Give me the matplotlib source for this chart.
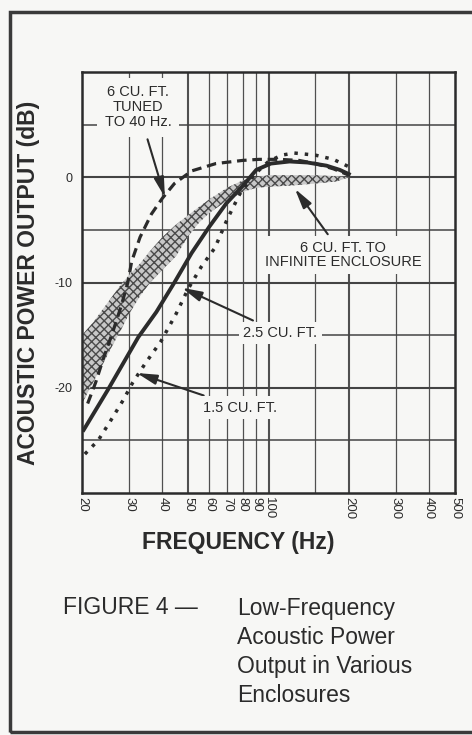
import matplotlib.pyplot as plt
from matplotlib.patches import Rectangle
from matplotlib.ticker import FixedLocator, NullLocator

plt.rcParams['font.family'] = ['Liberation Sans', 'DejaVu Sans']

# curve readings (Hz, dB) taken off the scanned figure
freq_tuned = [21, 22.5, 24, 26, 28, 29.7, 30.7, 33, 36.4, 40, 44.4, 51.5, 63.5, 80, 92, 110, 130, 150, 175, 200]
db_tuned = [-21.5, -19.5, -17.3, -14.8, -12.3, -10.0, -8.0, -5.7, -3.5, -2.0, -0.6, 0.6, 1.3, 1.6, 1.7, 1.7, 1.6, 1.3, 0.8, 0.2]

freq_25 = [20.3, 25, 32.5, 38, 44.4, 51.5, 60, 69.4, 79.6, 90, 102, 120, 140, 165, 185, 200]
db_25 = [-24, -20.2, -15.2, -12.8, -10.0, -7.2, -4.7, -2.5, -0.9, 0.7, 1.3, 1.5, 1.4, 1.1, 0.7, 0.3]

freq_15 = [20.5, 23, 25.5, 28.5, 31, 34.5, 39.5, 45, 50, 56, 63, 70, 78, 88, 100, 112, 125, 150, 175, 200]
db_15 = [-26.3, -25, -23.2, -21.2, -19.5, -17.7, -15.6, -13.0, -10.6, -8.5, -6.7, -4.0, -1.6, 0.2, 1.5, 2.1, 2.3, 2.1, 1.7, 1.0]

# shaded band: 6 cu. ft. up to infinite enclosure
freq_band = [20, 22, 24, 26, 28, 30, 33, 36, 40, 45, 50, 55, 60, 70, 80, 90, 100, 120, 150, 180, 200]
band_top = [-15, -13.8, -12.5, -11.3, -10.2, -9.3, -8.2, -7.0, -5.7, -4.5, -3.6, -2.8, -2.1, -1.0, -0.3, 0.0, 0.2, 0.2, 0.2, 0.1, 0.0]
band_bottom = [-21.5, -19.5, -17.7, -16.0, -14.5, -13.0, -11.3, -10.0, -8.8, -7.5, -5.6, -4.3, -3.4, -2.2, -1.4, -1.0, -0.9, -0.8, -0.6, -0.4, 0.0]

xtick_vals = [20, 30, 40, 50, 60, 70, 80, 90, 100, 200, 300, 400, 500]
xtick_labels = [str(v) for v in xtick_vals]
vgrid = [30, 40, 50, 60, 70, 80, 90, 100, 150, 200, 300, 400]
vgrid_heavy = [50, 100, 200]
ytick_vals = [0, -10, -20]
ytick_labels = ['0', '-10', '-20']
hgrid = [5, 0, -5, -10, -15, -20, -25]

bg = '#f7f7f5'
ink = '#2b2b2b'

fig = plt.figure(figsize=(4.72, 7.35), dpi=100, facecolor=bg)
ax = fig.add_axes([82 / 472, 1 - 493 / 735, 373 / 472, 421 / 735])
ax.set_facecolor(bg)
ax.set_xscale('log')
ax.set_xlim(20, 500)
ax.set_ylim(-30, 10)

for f in vgrid:
    ax.axvline(f, color='#505050', lw=1.5 if f in vgrid_heavy else 0.9, zorder=1)
for d in hgrid:
    ax.axhline(d, color='#444444', lw=1.5 if d % 10 == 0 else 1.1, zorder=1)

ax.fill_between(freq_band, band_bottom, band_top, facecolor='#c8c8c8',
                edgecolor='#4a4a4a', hatch='xxxx', linewidth=0, zorder=2)
ax.plot(freq_tuned, db_tuned, color=ink, lw=2.3, linestyle=(0, (3, 1.8)), zorder=3)
ax.plot(freq_25, db_25, color=ink, lw=2.8, zorder=4)
ax.plot(freq_15, db_15, color=ink, lw=2.5, linestyle=(0, (1, 2)),
        dash_capstyle='butt', zorder=3)

ax.xaxis.set_major_locator(FixedLocator(xtick_vals))
ax.xaxis.set_minor_locator(NullLocator())
ax.set_xticklabels(xtick_labels, rotation=270, fontsize=9.5, color=ink)
ax.set_yticks(ytick_vals)
ax.set_yticklabels(ytick_labels, fontsize=9, color=ink)
ax.tick_params(axis='both', length=0)
ax.tick_params(axis='x', pad=3)
ax.tick_params(axis='y', pad=7)
for s in ax.spines.values():
    s.set_linewidth(1.8)
    s.set_color(ink)

ax.set_ylabel('ACOUSTIC POWER OUTPUT (dB)', fontsize=16.5, fontweight='bold', color=ink)
ax.yaxis.set_label_coords(-0.112, 0.5)

box = dict(boxstyle='square,pad=0.3', facecolor=bg, edgecolor='none')
arrow = dict(arrowstyle='-|>,head_length=1.0,head_width=0.25', color=ink, lw=1.5,
             mutation_scale=12, shrinkA=2, shrinkB=0)
txt = dict(fontsize=10.5, color=ink, ha='center', va='center', zorder=6)

ax.annotate('6 CU. FT.\nTUNED\nTO 40 Hz.', xy=(40.9, -1.9), xytext=(32.4, 6.65),
            arrowprops=arrow, bbox=dict(boxstyle='square,pad=0.5', facecolor=bg, edgecolor='none'),
            linespacing=1.1, **txt)
ax.annotate('6 CU. FT. TO\nINFINITE ENCLOSURE', xy=(125.6, -1.1), xytext=(190, -7.4),
            arrowprops=arrow, bbox=box, linespacing=1.05, **txt)
ax.annotate('2.5 CU. FT.', xy=(47.4, -10.5), xytext=(110.6, -14.8),
            arrowprops=arrow, bbox=box, **txt)
ax.annotate('1.5 CU. FT.', xy=(32.1, -18.6), xytext=(78.3, -21.9),
            arrowprops=arrow, bbox=box, **txt)

fig.text(238.5 / 472, 1 - 542 / 735, 'FREQUENCY (Hz)', fontsize=16.5, fontweight='bold',
         color=ink, ha='center', va='center')

fig.text(63 / 472, 1 - 608 / 735, 'FIGURE 4 \u2014', fontsize=16.5, color=ink,
         ha='left', va='center')
caption = ['Low-Frequency', 'Acoustic Power', 'Output in Various', 'Enclosures']
for i, line in enumerate(caption):
    fig.text(237 / 472, 1 - (608 + 29 * i) / 735, line, fontsize=16.5, color=ink,
             ha='left', va='center')

fig.patches.append(Rectangle((10 / 472, 3 / 735), 1.2, 1 - 15 / 735, transform=fig.transFigure,
                             fill=False, edgecolor='#3a3a3a', lw=2.5))

fig.savefig('out.png', dpi=100, facecolor=bg)
